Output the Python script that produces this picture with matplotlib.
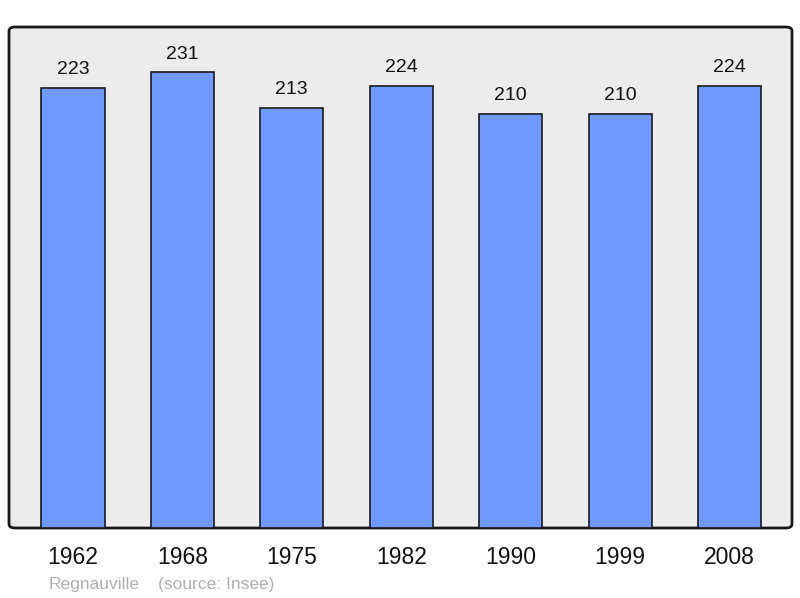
import matplotlib
matplotlib.use("Agg")
import matplotlib.pyplot as plt
from matplotlib.patches import FancyBboxPatch

years = ["1962", "1968", "1975", "1982", "1990", "1999", "2008"]
population = [223, 231, 213, 224, 210, 210, 224]

plt.rcParams['font.family'] = ['Liberation Sans', 'DejaVu Sans']

fig = plt.figure(figsize=(8.0, 5.98), dpi=100)
ax = fig.add_axes([9/800, 70/598, 783/800, 501/598])
ax.set_xlim(-0.585, 6.572)
ax.set_ylim(0, 254)
ax.axis('off')

# background frame with rounded corners
bg = FancyBboxPatch((0, 0), 1, 1, boxstyle="round,pad=0,rounding_size=0.008",
                    transform=ax.transAxes, facecolor="#ececec", edgecolor="#1a1a1a",
                    linewidth=2, zorder=0, clip_on=False)
ax.add_patch(bg)

x = list(range(len(years)))
ax.bar(x, population, width=0.576, color="#7099ff", edgecolor="#1a1a1a",
       linewidth=1.2, zorder=2)

for xi, v in zip(x, population):
    ax.annotate(str(v), (xi, v), xytext=(0, 7), textcoords="offset points",
                ha="center", va="bottom", fontsize=14, color="#111111")

for xi, lab in zip(x, years):
    ax.annotate(lab, (xi, 0), xytext=(0, -13), textcoords="offset points",
                ha="center", va="top", fontsize=16.5, color="#111111",
                annotation_clip=False)

fig.text(49/800, 1 - 584/598, "Regnauville", fontsize=12.5, color="#b0b0b0",
         ha="left", va="center")
fig.text(158/800, 1 - 584/598, "(source: Insee)", fontsize=12.5, color="#b0b0b0",
         ha="left", va="center")

fig.savefig("out.png", dpi=100)
